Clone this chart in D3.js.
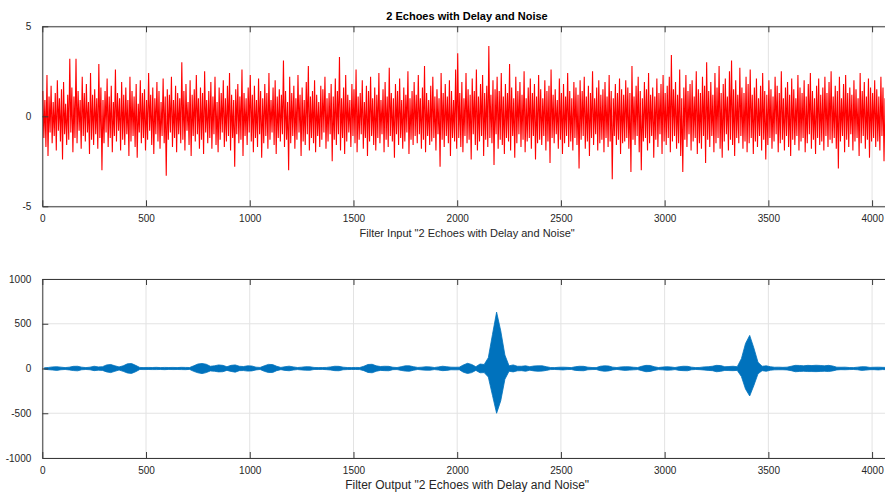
<!DOCTYPE html>
<html>
<head>
<meta charset="utf-8">
<script src="https://cdnjs.cloudflare.com/ajax/libs/d3/7.8.5/d3.min.js"></script>
<style>
  html, body { margin: 0; padding: 0; background: #fff; }
  svg { display: block; font-family: "Liberation Sans", Arial, sans-serif; }
</style>
</head>
<body>
<script>
// the 4096-point records are read as the highest and lowest value per block:
// 10-sample blocks for the input, 20-sample blocks for the output envelope
const inputBin = 10;
const outputBin = 20;
const sampleCount = 4096;

const xTicks = [0, 500, 1000, 1500, 2000, 2500, 3000, 3500, 4000];
const inputTicks = [-5, 0, 5];
const outputTicks = [-1000, -500, 0, 500, 1000];

const titleText = "2 Echoes with Delay and Noise";
const inputLabel = 'Filter Input "2 Echoes with Delay and Noise"';
const outputLabel = 'Filter Output "2 Echoes with Delay and Noise"';

// filter input (noisy echoes)
const inputHigh = [
  1.4,0.9,2.3,1.1,1.7,0.8,1.3,2.0,1.0,1.5,1.9,0.7,1.2,3.2,1.6,1.1,3.2,1.4,0.9,2.2,
  1.3,1.8,0.8,2.4,1.2,1.5,1.0,2.9,1.6,0.9,1.4,2.1,1.1,1.7,0.8,2.6,1.3,1.0,1.9,1.2,
  1.6,0.9,2.2,1.4,1.1,1.8,0.7,2.0,1.3,1.5,0.9,2.4,1.2,1.6,1.0,1.9,1.4,0.8,2.1,1.1,
  1.5,1.2,2.2,0.9,1.7,1.3,1.0,3.0,1.4,1.8,0.8,2.0,1.2,1.5,2.3,1.0,1.6,1.3,2.5,0.9,
  1.4,1.9,1.1,2.2,0.8,1.6,1.3,2.0,1.0,1.7,2.4,1.2,0.9,1.5,1.8,1.1,2.6,1.3,1.0,1.6,
  2.3,1.2,1.7,0.9,2.1,1.4,1.0,1.8,1.3,2.4,0.9,1.6,2.0,1.1,1.5,1.2,3.1,1.4,0.8,2.2,
  1.3,1.7,1.0,2.3,1.2,1.6,0.9,1.9,2.8,1.1,1.4,2.0,1.2,0.8,1.7,1.5,2.2,1.0,1.3,1.8,
  1.1,2.1,1.4,3.3,1.0,1.6,2.3,1.2,0.9,1.8,1.5,2.6,1.1,1.3,2.0,0.8,1.7,1.4,2.2,1.0,
  1.6,1.2,2.4,0.9,1.5,1.9,1.1,2.7,1.3,1.0,1.8,1.4,2.1,0.9,1.6,1.2,2.5,1.0,1.4,1.9,
  1.2,2.3,1.0,1.6,2.8,1.3,0.9,1.7,2.2,1.1,1.5,1.0,2.4,1.3,1.8,1.1,2.0,1.4,0.9,2.6,
  3.5,1.3,1.9,1.0,2.4,1.5,1.2,2.1,1.4,2.6,1.1,1.8,2.3,1.3,1.7,3.9,1.2,2.0,1.5,2.2,
  1.4,2.4,1.1,1.8,1.3,2.9,1.6,1.0,2.2,1.4,1.9,1.2,2.5,1.0,1.6,2.1,1.3,1.8,1.1,2.3,
  1.5,1.0,2.0,1.4,1.7,2.6,1.2,1.5,0.9,2.1,1.3,1.8,1.1,2.4,1.4,1.0,1.9,1.6,1.2,2.0,
  1.4,2.2,1.1,1.7,1.3,2.5,1.0,1.6,2.0,1.2,1.5,1.9,1.1,2.3,1.4,1.0,1.8,1.3,2.1,1.5,
  1.2,2.0,1.6,1.3,2.8,1.1,1.7,2.2,1.4,1.0,1.9,1.5,2.4,1.2,1.6,1.1,2.1,1.3,1.8,2.3,
  1.3,1.7,2.2,3.4,1.5,1.9,1.2,2.6,1.0,1.6,2.3,1.4,1.8,2.0,1.1,2.5,1.5,1.3,2.2,1.7,
  3.0,1.4,1.9,1.2,2.4,1.6,2.8,1.3,1.8,2.1,1.1,2.5,3.1,1.5,2.0,1.2,2.7,1.6,1.3,2.2,
  1.8,2.6,1.2,1.6,2.1,1.0,1.7,2.4,1.4,1.2,2.0,1.5,1.1,2.2,1.7,1.3,2.5,1.0,1.6,1.9,
  1.2,2.1,1.5,1.0,2.3,1.6,1.3,2.0,1.1,1.8,2.4,1.4,1.0,1.7,2.1,1.2,1.6,2.2,1.3,1.9,
  2.5,1.1,1.7,1.4,2.2,1.0,1.8,2.3,1.3,1.6,1.2,2.0,1.5,1.0,2.4,1.4,1.9,1.1,2.1,1.6,
  1.3,2.0,1.5,1.1,2.2,1.6,1.0,1.8,1.4,2.1
];
const inputLow = [
  -1.2,-1.7,-2.2,-0.9,-1.5,-1.1,-1.9,-0.8,-1.4,-2.4,-1.0,-1.6,-1.3,-0.9,-2.0,-1.2,-1.5,-0.8,-1.8,-1.1,
  -1.4,-0.9,-2.1,-1.3,-1.6,-1.0,-1.8,-1.2,-3.0,-1.5,-0.9,-1.7,-1.2,-2.0,-1.1,-1.4,-0.8,-1.9,-1.3,-1.6,
  -1.0,-2.2,-1.4,-1.1,-1.7,-2.3,-0.9,-1.5,-1.2,-1.9,-1.3,-0.8,-1.6,-2.1,-1.0,-1.4,-1.8,-1.1,-1.5,-3.3,
  -1.3,-0.9,-1.7,-1.2,-2.0,-1.0,-1.5,-1.3,-1.9,-0.8,-1.6,-2.2,-1.1,-1.4,-1.0,-1.8,-1.3,-2.1,-0.9,-1.5,
  -1.2,-1.8,-1.0,-1.6,-2.0,-1.3,-0.9,-1.7,-1.4,-1.1,-1.9,-1.2,-2.8,-1.0,-1.5,-1.3,-2.2,-1.1,-1.6,-0.9,
  -1.4,-2.0,-1.2,-1.7,-1.0,-2.3,-1.5,-1.1,-1.8,-1.3,-0.9,-1.6,-2.1,-1.2,-1.4,-1.0,-1.7,-1.3,-3.0,-1.5,
  -1.1,-1.8,-1.3,-0.9,-2.2,-1.4,-1.6,-1.0,-1.9,-1.2,-1.5,-2.0,-1.1,-1.7,-1.3,-0.9,-1.8,-1.4,-1.0,-2.5,
  -1.3,-1.6,-1.0,-1.9,-1.2,-2.1,-1.4,-0.9,-1.7,-1.1,-1.5,-2.0,-1.3,-1.0,-1.8,-1.2,-2.2,-1.4,-1.1,-1.6,
  -1.9,-1.2,-1.5,-1.0,-2.0,-1.3,-1.7,-1.1,-1.4,-2.3,-1.0,-1.6,-1.2,-1.8,-1.4,-0.9,-2.1,-1.3,-1.6,-1.1,
  -1.5,-1.0,-1.8,-1.3,-2.0,-1.1,-1.6,-1.4,-1.2,-1.9,-1.0,-2.8,-1.3,-1.7,-1.1,-1.5,-2.2,-1.2,-1.4,-1.8,
  -1.2,-1.7,-2.0,-1.1,-1.5,-1.3,-2.4,-1.0,-1.6,-1.9,-1.4,-1.1,-2.2,-1.3,-1.7,-1.2,-1.5,-2.7,-1.0,-1.8,
  -1.3,-1.6,-2.1,-1.2,-1.4,-1.9,-1.1,-2.3,-1.5,-1.0,-1.7,-1.3,-2.0,-1.4,-1.2,-1.8,-1.1,-2.4,-1.5,-1.3,
  -1.6,-1.1,-1.9,-1.4,-2.6,-1.2,-1.5,-1.0,-1.8,-1.3,-2.1,-1.5,-1.1,-1.7,-1.4,-1.9,-1.2,-1.6,-2.9,-1.3,
  -1.1,-1.8,-1.4,-2.2,-1.2,-1.6,-1.0,-1.9,-1.5,-1.3,-2.0,-1.2,-1.7,-1.4,-3.5,-1.1,-1.6,-1.3,-2.1,-1.5,
  -1.4,-1.2,-1.8,-3.1,-1.3,-1.6,-1.1,-2.0,-3.0,-1.4,-1.2,-1.9,-1.5,-1.1,-2.3,-1.3,-1.7,-1.0,-2.1,-1.4,
  -1.6,-1.2,-2.0,-1.4,-1.1,-1.8,-1.5,-2.2,-3.1,-1.3,-1.7,-1.0,-1.9,-1.4,-1.2,-2.1,-1.5,-1.8,-1.1,-2.6,
  -1.3,-1.7,-1.1,-2.0,-1.5,-1.2,-1.8,-2.3,-1.4,-1.0,-1.9,-1.3,-1.6,-2.2,-1.2,-1.5,-1.1,-1.8,-1.4,-2.0,
  -1.5,-1.2,-2.1,-1.4,-1.7,-1.1,-1.9,-1.3,-2.4,-1.6,-1.2,-1.8,-1.4,-1.0,-2.0,-1.5,-1.3,-1.9,-1.1,-1.7,
  -2.2,-1.3,-1.6,-1.1,-1.9,-1.4,-1.2,-2.0,-1.5,-1.0,-1.8,-1.3,-2.1,-1.2,-1.6,-1.4,-1.9,-1.1,-1.7,-1.3,
  -1.5,-1.2,-1.8,-2.9,-1.4,-1.1,-2.0,-1.3,-1.7,-1.0,-1.9,-1.4,-1.2,-2.2,-1.5,-1.1,-1.8,-1.3,-2.3,-1.4,
  -1.2,-1.7,-1.4,-1.9,-1.1,-2.5,-1.3,-1.6,-1.0,-1.8
];

// filter output envelope (matched-filter response)
const outputHigh = [
  8,12,18,20,15,10,15,24,25,15,10,15,25,18,20,40,45,30,18,30,
  52,56,35,12,10,12,11,13,10,12,11,12,10,13,12,11,30,50,56,48,
  25,30,40,35,20,35,40,25,22,30,28,15,12,30,46,44,25,12,20,26,
  18,11,15,20,19,12,10,11,12,18,25,24,15,11,10,12,11,25,45,47,
  30,22,25,24,14,11,20,30,30,20,12,15,20,18,11,18,25,20,15,14,
  15,40,58,45,20,50,45,120,380,630,420,150,30,40,25,25,30,20,28,30,
  30,20,11,10,14,15,13,10,20,25,24,15,11,10,25,30,28,15,11,18,
  20,19,14,11,25,35,34,20,11,16,20,17,11,20,25,24,15,10,12,18,
  20,25,35,33,20,22,25,20,110,280,370,230,70,25,30,20,14,15,13,15,
  25,35,34,30,35,33,36,34,30,35,28,15,14,15,11,10,15,20,19,12,
  14,15,13,12,10
];
const outputLow = [
  -9,-13,-17,-21,-14,-11,-16,-23,-26,-14,-11,-14,-24,-19,-21,-38,-46,-31,-17,-32,
  -50,-55,-36,-11,-12,-11,-12,-12,-11,-13,-10,-12,-11,-12,-13,-10,-32,-48,-57,-46,
  -27,-31,-38,-36,-21,-33,-41,-24,-23,-29,-27,-16,-11,-31,-45,-45,-24,-13,-21,-25,
  -17,-12,-16,-19,-20,-11,-11,-10,-13,-17,-24,-25,-14,-12,-11,-11,-12,-24,-44,-48,
  -31,-21,-24,-25,-13,-12,-21,-29,-31,-19,-11,-16,-19,-19,-12,-17,-24,-21,-14,-15,
  -14,-42,-56,-46,-21,-48,-46,-95,-300,-500,-360,-120,-31,-38,-26,-24,-31,-19,-27,-31,
  -29,-21,-12,-11,-13,-16,-12,-11,-21,-24,-25,-14,-12,-11,-24,-31,-27,-16,-10,-17,
  -21,-18,-15,-12,-24,-36,-33,-21,-12,-15,-19,-18,-12,-21,-24,-25,-14,-11,-13,-17,
  -21,-24,-36,-32,-21,-23,-24,-21,-90,-230,-307,-190,-60,-24,-31,-19,-15,-14,-14,-16,
  -24,-36,-33,-31,-34,-34,-35,-33,-31,-34,-27,-16,-13,-14,-12,-11,-14,-21,-18,-13,
  -13,-16,-12,-13,-11
];

const width = 885;
const height = 495;

const svg = d3.select("body").append("svg")
  .attr("width", width)
  .attr("height", height);

const x = d3.scaleLinear().domain([0, sampleCount]).range([42.3, 892]);

function drawFrame(g, y, ticks, top, bottom) {
  // grid
  g.selectAll(".vgrid").data(xTicks).enter().append("line")
    .attr("x1", d => x(d)).attr("x2", d => x(d))
    .attr("y1", top).attr("y2", bottom)
    .attr("stroke", "#e3e3e3").attr("stroke-width", 1);
  g.selectAll(".hgrid").data(ticks).enter().append("line")
    .attr("x1", x.range()[0]).attr("x2", x.range()[1])
    .attr("y1", d => y(d)).attr("y2", d => y(d))
    .attr("stroke", "#e3e3e3").attr("stroke-width", 1);
}

function drawAxes(g, y, ticks, top, bottom) {
  const fmt = d => String(d);
  const bottomAxis = d3.axisBottom(x).tickValues(xTicks).tickFormat(fmt).tickSizeInner(-6).tickSizeOuter(0).tickPadding(9);
  const topAxis = d3.axisTop(x).tickValues(xTicks).tickSizeInner(-6).tickSizeOuter(0).tickFormat("");
  const leftAxis = d3.axisLeft(y).tickValues(ticks).tickFormat(fmt).tickSizeInner(-6).tickSizeOuter(0).tickPadding(11);
  const rightAxis = d3.axisRight(y).tickValues(ticks).tickSizeInner(-6).tickSizeOuter(0).tickFormat("");

  const styleAxis = sel => {
    sel.select(".domain").attr("stroke", "#3a3a3a").attr("stroke-width", 1);
    sel.selectAll(".tick line").attr("stroke", "#3a3a3a");
    sel.selectAll(".tick text").attr("fill", "#262626").style("font-size", "10px")
      .style("font-family", "'Liberation Sans', Arial, sans-serif");
  };

  g.append("g").attr("transform", `translate(0,${bottom})`).call(bottomAxis).call(styleAxis);
  g.append("g").attr("transform", `translate(0,${top})`).call(topAxis).call(styleAxis);
  g.append("g").attr("transform", `translate(${x.range()[0]},0)`).call(leftAxis).call(styleAxis);
  g.append("g").attr("transform", `translate(${x.range()[1]},0)`).call(rightAxis).call(styleAxis);
}

function drawLabel(g, text, yPos, size) {
  g.append("text")
    .attr("x", (x.range()[0] + x.range()[1]) / 2)
    .attr("y", yPos)
    .attr("text-anchor", "middle")
    .attr("fill", "#262626")
    .style("font-size", size)
    .text(text);
}

// --- top panel: filter input
const yIn = d3.scaleLinear().domain([-5, 5]).range([206.3, 26.3]);
const gIn = svg.append("g");
drawFrame(gIn, yIn, inputTicks, 26.3, 206.3);

// every block is a stroke from its high to its low
const inputPoints = inputHigh.flatMap((h, k) => [
  [k * inputBin + inputBin * 0.25, h],
  [k * inputBin + inputBin * 0.75, inputLow[k]]
]);
gIn.append("path")
  .datum(inputPoints)
  .attr("fill", "none")
  .attr("stroke", "#ff0000")
  .attr("stroke-width", 1.1)
  .attr("d", d3.line().x(d => x(d[0])).y(d => yIn(d[1])));

drawAxes(gIn, yIn, inputTicks, 26.3, 206.3);
drawLabel(gIn, inputLabel, 237, "11px");

// --- bottom panel: filter output
const yOut = d3.scaleLinear().domain([-1000, 1000]).range([458, 279]);
const gOut = svg.append("g");
drawFrame(gOut, yOut, outputTicks, 279, 458);

const outputArea = d3.area()
  .x((d, k) => x(k * outputBin + outputBin / 2))
  .y0((d, k) => yOut(outputLow[k]))
  .y1(d => yOut(d))
  .curve(d3.curveLinear);
gOut.append("path")
  .datum(outputHigh)
  .attr("fill", "#0072bd")
  .attr("stroke", "#0072bd")
  .attr("stroke-width", 0.8)
  .attr("d", outputArea);

drawAxes(gOut, yOut, outputTicks, 279, 458);
drawLabel(gOut, outputLabel, 489, "12px");

svg.append("text")
  .attr("x", 467)
  .attr("y", 20)
  .attr("text-anchor", "middle")
  .attr("fill", "#000")
  .style("font-size", "11px")
  .style("font-weight", "bold")
  .text(titleText);
</script>
</body>
</html>
